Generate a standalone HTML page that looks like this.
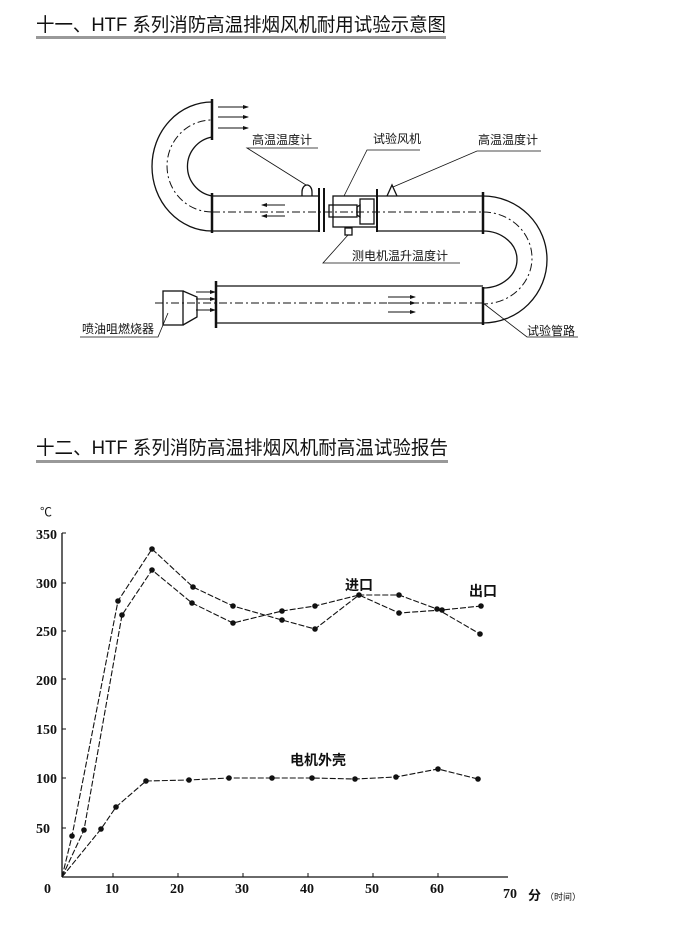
<!DOCTYPE html>
<html><head><meta charset="utf-8"><style>
body{margin:0;background:#fff;width:700px;height:928px;overflow:hidden}
svg{display:block}
text{font-family:"Liberation Serif","Noto Sans CJK SC",serif;fill:#111}
.s{font-family:"Liberation Sans","Noto Sans CJK SC",sans-serif}
</style></head><body>
<svg width="700" height="928" viewBox="0 0 700 928" xmlns="http://www.w3.org/2000/svg">
<defs><marker id="a" markerWidth="6" markerHeight="6" refX="5" refY="3" orient="auto"><path d="M0,1 L6,3 L0,5z" fill="#111"/></marker></defs>
<text x="36" y="31" font-size="19" textLength="410" lengthAdjust="spacingAndGlyphs" class="s">十一、HTF 系列消防高温排烟风机耐用试验示意图</text>
<rect x="36" y="36" width="410" height="3" fill="#999"/>
<text x="36" y="454" font-size="19" textLength="412" lengthAdjust="spacingAndGlyphs" class="s">十二、HTF 系列消防高温排烟风机耐高温试验报告</text>
<rect x="36" y="460" width="412" height="3" fill="#999"/>

<g stroke="#111" fill="none" stroke-width="1.3">
<line x1="212" y1="196" x2="320" y2="196"/><line x1="212" y1="231" x2="320" y2="231"/>
<line x1="377" y1="196" x2="483" y2="196"/><line x1="377" y1="231" x2="483" y2="231"/>
<line x1="212" y1="193" x2="212" y2="233" stroke-width="2.5"/>
<line x1="319" y1="188" x2="319" y2="232" stroke-width="2"/>
<line x1="324" y1="188" x2="324" y2="232" stroke-width="2"/>
<line x1="377" y1="189" x2="377" y2="232" stroke-width="2"/>
<line x1="483" y1="192" x2="483" y2="234" stroke-width="2.5"/>
<rect x="333" y="196" width="44" height="31"/>
<rect x="329" y="205" width="28" height="12"/>
<rect x="360" y="199" width="14" height="25"/>
<path d="M357,207 l3,-2 v12 l-3,-2z"/>
<rect x="345" y="228" width="7" height="7"/>
<path d="M302,196 v-4 a5,7 0 0 1 10,0 v4"/>
<path d="M387,196 l5,-11 l5,11"/>
<path d="M212,231 A60,64.5 0 0 1 212,102"/>
<path d="M212,196 A30,30 0 0 1 212,137"/>
<line x1="212" y1="99" x2="212" y2="140" stroke-width="2.5"/>
<path d="M212,212 A45,46 0 0 1 212,120" stroke-dasharray="8,3,2,3" stroke-width="1"/>
<path d="M483,196 A64,63.5 0 0 1 483,323"/>
<path d="M483,231 A34,28.5 0 0 1 483,288"/>
<path d="M483,212 A49,46 0 0 1 483,304" stroke-dasharray="8,3,2,3" stroke-width="1"/>
<line x1="216" y1="286" x2="483" y2="286"/><line x1="216" y1="323" x2="483" y2="323"/>
<line x1="216" y1="281" x2="216" y2="328" stroke-width="2.5"/>
<line x1="483" y1="287" x2="483" y2="325" stroke-width="2.5"/>
<rect x="163" y="291" width="20" height="34"/>
<path d="M183,291 L197,297 V317 L183,325"/>
<line x1="212" y1="212" x2="483" y2="212" stroke-dasharray="8,3,2,3" stroke-width="1"/>
<line x1="155" y1="303" x2="483" y2="303" stroke-dasharray="8,3,2,3" stroke-width="1"/>
<polyline points="318,148 247,148 306,185" stroke-width="0.8"/>
<polyline points="420,150 367,150 344,196" stroke-width="0.8"/>
<polyline points="541,151 477,151 393,187" stroke-width="0.8"/>
<polyline points="460,263 323,263 348,235" stroke-width="0.8"/>
<polyline points="483,303 527,337 578,337" stroke-width="0.8"/>
<polyline points="80,337 158,337 168,313" stroke-width="0.8"/>
</g>
<g stroke="#111" stroke-width="1" marker-end="url(#a)">
<line x1="218" y1="107" x2="248" y2="107"/><line x1="218" y1="117" x2="248" y2="117"/><line x1="218" y1="128" x2="248" y2="128"/>
<line x1="285" y1="205" x2="262" y2="205"/><line x1="285" y1="216" x2="262" y2="216"/>
<line x1="196" y1="292" x2="215" y2="292"/><line x1="196" y1="299" x2="215" y2="299"/><line x1="196" y1="310" x2="215" y2="310"/>
<line x1="388" y1="297" x2="415" y2="297"/><line x1="388" y1="303" x2="415" y2="303"/><line x1="388" y1="312" x2="415" y2="312"/>
</g>
<g font-size="12" class="s">
<text x="252" y="144" class="s">高温温度计</text>
<text x="373" y="143" class="s">试验风机</text>
<text x="478" y="144" class="s">高温温度计</text>
<text x="352" y="260" class="s">测电机温升温度计</text>
<text x="527" y="335" class="s">试验管路</text>
<text x="82" y="333" class="s">喷油咀燃烧器</text>
</g>

<g stroke="#111" fill="none" stroke-width="1.3">
<line x1="62" y1="533" x2="62" y2="877"/>
<line x1="62" y1="877" x2="508" y2="877"/>
<g stroke-width="1"><line x1="62" y1="533" x2="66" y2="533"/><line x1="62" y1="583" x2="66" y2="583"/><line x1="62" y1="631" x2="66" y2="631"/><line x1="62" y1="679" x2="66" y2="679"/><line x1="62" y1="729" x2="66" y2="729"/><line x1="62" y1="778" x2="66" y2="778"/><line x1="62" y1="828" x2="66" y2="828"/>
<line x1="113" y1="873" x2="113" y2="877"/><line x1="178" y1="873" x2="178" y2="877"/><line x1="243" y1="873" x2="243" y2="877"/><line x1="308" y1="873" x2="308" y2="877"/><line x1="373" y1="873" x2="373" y2="877"/><line x1="438" y1="873" x2="438" y2="877"/></g>
<polyline stroke-width="1.1" stroke-dasharray="6,2" points="62,877 72,836 118,601 152,549 193,587 233,606 282,620 315,629 359,595 399,595 437,609 480,634"/>
<polyline stroke-width="1.1" stroke-dasharray="6,2" points="62,877 84,830 122,615 152,570 192,603 233,623 282,611 315,606 359,595 399,613 442,610 481,606"/>
<polyline stroke-width="1.1" stroke-dasharray="6,2" points="62,877 101,829 116,807 146,781 189,780 229,778 272,778 312,778 355,779 396,777 438,769 478,779"/>
</g>
<g fill="#111">
<circle cx="72" cy="836" r="2.8"/><circle cx="118" cy="601" r="2.8"/><circle cx="152" cy="549" r="2.8"/><circle cx="193" cy="587" r="2.8"/><circle cx="233" cy="606" r="2.8"/><circle cx="282" cy="620" r="2.8"/><circle cx="315" cy="629" r="2.8"/><circle cx="359" cy="595" r="2.8"/><circle cx="399" cy="595" r="2.8"/><circle cx="437" cy="609" r="2.8"/><circle cx="480" cy="634" r="2.8"/>
<circle cx="84" cy="830" r="2.8"/><circle cx="122" cy="615" r="2.8"/><circle cx="152" cy="570" r="2.8"/><circle cx="192" cy="603" r="2.8"/><circle cx="233" cy="623" r="2.8"/><circle cx="282" cy="611" r="2.8"/><circle cx="315" cy="606" r="2.8"/><circle cx="399" cy="613" r="2.8"/><circle cx="442" cy="610" r="2.8"/><circle cx="481" cy="606" r="2.8"/>
<circle cx="101" cy="829" r="2.8"/><circle cx="116" cy="807" r="2.8"/><circle cx="146" cy="781" r="2.8"/><circle cx="189" cy="780" r="2.8"/><circle cx="229" cy="778" r="2.8"/><circle cx="272" cy="778" r="2.8"/><circle cx="312" cy="778" r="2.8"/><circle cx="355" cy="779" r="2.8"/><circle cx="396" cy="777" r="2.8"/><circle cx="438" cy="769" r="2.8"/><circle cx="478" cy="779" r="2.8"/>
</g>
<g font-size="14" font-weight="bold">
<text x="36" y="539">350</text><text x="36" y="588">300</text><text x="36" y="636">250</text><text x="36" y="685">200</text><text x="36" y="734">150</text><text x="36" y="783">100</text><text x="36" y="833">50</text>
<text x="44" y="893">0</text><text x="105" y="893">10</text><text x="170" y="893">20</text><text x="235" y="893">30</text><text x="300" y="893">40</text><text x="365" y="893">50</text><text x="430" y="893">60</text><text x="503" y="898">70</text>
</g>
<text x="40" y="516" font-size="12" class="s">℃</text>
<text x="345" y="590" font-size="14" font-weight="bold" class="s">进口</text>
<text x="469" y="596" font-size="14" font-weight="bold" class="s">出口</text>
<text x="290" y="765" font-size="14" font-weight="bold" class="s">电机外壳</text>
<text x="528" y="900" font-size="13" font-weight="bold" class="s">分</text>
<text x="545" y="900" font-size="9" class="s">（时间）</text>
</svg>
</body></html>
